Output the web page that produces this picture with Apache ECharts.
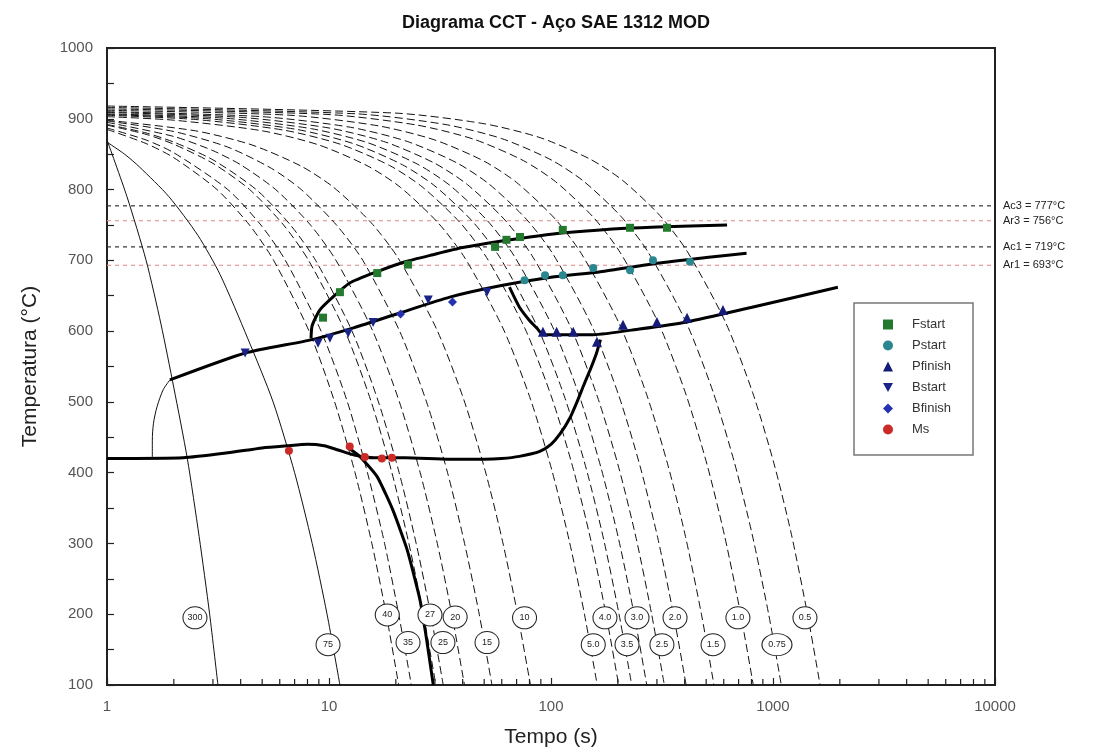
<!DOCTYPE html>
<html><head><meta charset="utf-8">
<script src="https://cdn.jsdelivr.net/npm/echarts@6/dist/echarts.min.js"></script>
<style>html,body{margin:0;padding:0;background:#fff}#c{width:1093px;height:754px}</style>
</head><body><div id="c"></div>
<script>
// ---- cooling curves [time s, temperature °C] ----
const cool300 = [[1,870],[1.23,790],[1.5,700],[1.75,610],[2.0,520],[2.3,420],[2.6,310],[2.9,200],[3.16,100]];
const cool75  = [[1,867],[1.2,850],[1.4,832],[1.9,790],[2.57,735],[3.23,680],[4.3,590],[5.6,500],[7.0,400],[8.4,300],[9.8,200],[11.2,100]];
const cool40  = [[1,885],[1.5,865],[2,845],[3.13,800],[4.38,750],[5.63,700],[8.13,600],[10.6,500],[13.1,400],[15.6,300],[18.1,200],[20.6,100]];
const cool35  = [[1,887],[1.5,870],[2,852],[3.5,800],[4.93,750],[6.36,700],[9.21,600],[12.1,500],[14.9,400],[17.8,300],[20.6,200],[23.5,100]];
const cool27  = [[1,891],[1.5,878],[2,864],[3,837],[4.39,800],[6.24,750],[8.09,700],[11.8,600],[15.5,500],[19.2,400],[22.9,300],[26.6,200],[30.3,100]];
const cool25  = [[1,892],[1.5,880],[2,867],[3,842],[4.7,800],[6.7,750],[8.7,700],[12.7,600],[16.7,500],[20.7,400],[24.7,300],[28.7,200],[32.7,100]];
const cool20  = [[1,895],[2,875],[3,855],[4,835],[5.75,800],[8.25,750],[10.75,700],[15.75,600],[20.75,500],[25.75,400],[30.75,300],[35.75,200],[40.75,100]];
const cool15  = [[1,897],[2,882],[3.5,860],[5.5,830],[7.5,800],[10.8,750],[14.2,700],[20.8,600],[27.5,500],[34.2,400],[40.8,300],[47.5,200],[54.2,100]];
const cool10  = [[1,898],[2.5,883],[4.5,863],[7.5,833],[10.5,803],[15.5,753],[20.5,703],[30.5,603],[40.5,503],[50.5,403],[60.5,303],[70.7,200],[80.8,100]];
const cool5   = [[1,903],[2,898],[5,883],[9,863],[15,833],[21,803],[31,753],[41,703],[61,603],[81,503],[101,403],[121,303],[141.5,200],[161.5,100]];
const cool4   = [[1,905],[2.5,899],[6.25,884],[11.25,864],[18.75,834],[26.25,804],[38.75,754],[51.25,704],[76.25,604],[101.3,504],[126.3,404],[151.3,304],[176.8,200],[201.8,100]];
const cool3_5 = [[1,906],[2.86,900],[7.14,885],[12.86,865],[21.43,835],[30,805],[44.3,755],[58.6,705],[87.1,605],[115.7,505],[144.3,405],[172.9,305],[202.5,200],[231,100]];
const cool3   = [[1,907],[3.33,901],[8.33,886],[15,866],[25,836],[35,806],[51.7,756],[68.3,706],[101.7,606],[135,506],[168.3,406],[201.7,306],[236.7,200],[270,100]];
const cool2_5 = [[1,909],[4,902],[10,887],[18,867],[30,837],[42,807],[62,757],[82,707],[122,607],[162,507],[202,407],[242,307],[284,200],[324,100]];
const cool2   = [[1,910],[5,903],[12.5,888],[22.5,868],[37.5,838],[52.5,808],[77.5,758],[102.5,708],[152.5,608],[202.5,508],[252.5,408],[302.5,308],[356,200],[406,100]];
const cool1_5 = [[1,912],[6.67,905],[16.7,890],[30,870],[50,840],[70,810],[103.3,760],[136.7,710],[203.3,610],[270,510],[336.7,410],[403.3,310],[476,200],[542,100]];
const cool1   = [[1,914],[10,906],[25,891],[45,871],[75,841],[105,811],[155,761],[205,711],[305,611],[405,511],[505,411],[605,311],[715,200],[815,100]];
const cool0_75= [[1,916],[13.3,907],[33.3,892],[60,872],[100,842],[140,812],[206.7,762],[273.3,712],[406.7,612],[540,512],[673.3,412],[806.7,312],[956,200],[1090,100]];
const cool0_5 = [[1,918],[20,908],[50,893],[90,873],[150,843],[210,813],[310,763],[410,713],[610,613],[810,513],[1010,413],[1210,313],[1430,200],[1630,100]];

// ---- transformation lines ----
const ferriteStart = [[8.3,590],[8.4,608],[9.1,630],[10.4,648],[12.4,668],[16.5,684],[22,698],[29.4,708],[40,718],[59,727],[100,737],[167,743],[300,747],[621,750]];
const bainiteStart = [[1.92,531],[4.2,569],[8.4,588],[13,605],[21,626],[35,648],[59,664],[100,676],[167,684],[300,696],[500,704],[760,710]];
const pearliteFinish = [[65,662],[72,634],[80,615],[86.5,604],[92,595],[120,595],[155,595],[250,603],[410,613],[787,633],[1960,662]];
const bsNose = [[1.6,420],[1.6,445],[1.62,470],[1.68,493],[1.79,517],[1.92,531]];
const msLine = [[1,420],[2.2,421],[3.5,428],[5,435],[6.5,438],[8,440],[9.5,438],[11,432],[13,425],[16,421],[22,421],[35,419],[50,419],[60,420],[72,423],[89,430],[100,440],[110,455],[122,478],[131,500],[141,525],[150,545],[160,568],[167,588]];
const martensiteLine = [[12,437],[13.5,425],[15,410],[16.5,394],[18,370],[19.4,347],[21,318],[22.5,291],[24,258],[25.7,220],[27.5,165],[29.5,100]];

// ---- critical temperatures ----
const critNames = ['Ac3','Ar3','Ac1','Ar1'];
const critTemps = [777,756,719,693];

// ---- measured points ----
const fStart  = [[9.4,619],[11.2,655],[16.5,682],[22.7,694],[56,719],[63,729],[72.5,733],[113,743],[227,746],[333,746]];
const pStart  = [[76,672],[94,679],[113,679],[155,689],[227,686],[288,700],[423,698]];
const pFinish = [[92,599],[106,599],[126,599],[161,585],[211,609],[300,613],[410,619],[595,630]];
const bStart  = [[4.19,569],[8.93,583],[10.1,590],[12.2,597],[15.8,612],[28,644],[51.5,655]];
const bFinish = [[21,624],[36,641]];
const msPts   = [[6.6,431],[12.4,437],[14.5,422],[17.3,420],[19.2,421]];

// ---- cooling-rate labels ----
const rateNames = ['300','75','40','35','27','25','20','15','10','5.0','4.0','3.5','3.0','2.5','2.0','1.5','1.0','0.75','0.5'];
const rateLabelTime = [2.49,9.9,18.3,22.7,28.5,32.6,37.0,51.5,76,155,175,220,244,316,362,537,695,1042,1393];
const rateLabelTemp = [195,157,199,160,199,160,196,160,195,157,195,157,195,157,195,157,195,157,195];

// ---- region names ----
const regionNames = ['Austenita','Ferrite','Perlita','Bainita','Martensita'];
const regionTime = [4.9,33,237,10.1,4.1];
const regionTemp = [814,684,654,527,308];

// ---- axis ticks ----
const xMinorTicks = [];
[1,10,100,1000].forEach(d => { for (let k = 2; k <= 9; k++) xMinorTicks.push(d*k); });

const coolSets = [cool300,cool75,cool40,cool35,cool27,cool25,cool20,cool15,cool10,cool5,cool4,cool3_5,cool3,cool2_5,cool2,cool1_5,cool1,cool0_75,cool0_5];

const FONT = 'Liberation Sans, Arial, sans-serif';
const series = [];
coolSets.forEach((d, i) => {
  series.push({
    type: 'line', name: 'c' + rateNames[i], data: d, showSymbol: false, silent: true, smooth: 0.25,
    lineStyle: { color: '#111', width: 1, type: i < 2 ? 'solid' : [8, 4] }, z: 2
  });
});
critNames.forEach((n, i) => {
  const red = n.startsWith('Ar');
  series.push({
    type: 'line', name: n, data: [[1, critTemps[i]], [10000, critTemps[i]]], showSymbol: false, silent: true,
    lineStyle: { color: red ? '#e59a9a' : '#333', width: 1.2, type: [4, 4] }, z: 1,
    endLabel: { show: true, formatter: n + ' = ' + critTemps[i] + '°C', color: '#222', fontSize: 11, fontFamily: FONT, distance: 8 }
  });
});
[ferriteStart, bainiteStart, pearliteFinish, msLine, martensiteLine].forEach(d => {
  series.push({ type: 'line', data: d, showSymbol: false, silent: true, smooth: 0.2,
    lineStyle: { color: '#000', width: 3 }, z: 4 });
});
series.push({ type: 'line', data: bsNose, showSymbol: false, silent: true, smooth: 0.3,
  lineStyle: { color: '#111', width: 1 }, z: 3 });

const markerDefs = [
  ['Fstart', fStart, 'rect', 8, '#237a2e'],
  ['Pstart', pStart, 'circle', 8, '#2a8790'],
  ['Pfinish', pFinish, 'triangle', 10, '#151b78'],
  ['Bstart', bStart, 'path://M0,0 L10,0 L5,9 Z', 9, '#1a2488'],
  ['Bfinish', bFinish, 'diamond', 9, '#2430b0'],
  ['Ms', msPts, 'circle', 8, '#cc2a26']
];
markerDefs.forEach(m => {
  series.push({ type: 'scatter', name: m[0], data: m[1], symbol: m[2], symbolSize: m[3],
    itemStyle: { color: m[4], opacity: 1 }, z: 6 });
});
series.push({
  type: 'scatter', silent: true, z: 7,
  data: rateNames.map((n, i) => ({ name: n, value: [rateLabelTime[i], rateLabelTemp[i]] })),
  symbol: 'path://M0,10 A10,10 0 1,1 20,10 A10,10 0 1,1 0,10 Z',
  symbolSize: (v, p) => p.name.length > 3 ? [30, 22] : [24, 22],
  itemStyle: { color: '#fff', borderColor: '#222', borderWidth: 1, opacity: 1 },
  label: { show: true, position: 'inside', formatter: '{b}', fontSize: 9, color: '#222', fontFamily: FONT }
});
series.push({
  type: 'scatter', silent: true, z: 8, symbolSize: 1,
  data: regionNames.map((n, i) => ({ name: n, value: [regionTime[i], regionTemp[i]] })),
  itemStyle: { opacity: 0 },
  label: { show: true, position: 'inside', formatter: '{b}', fontSize: 20, color: '#111', fontFamily: FONT }
});
series.push({
  type: 'custom', silent: true, z: 9, clip: false,
  data: xMinorTicks.map(v => [v, 100]),
  encode: { x: 0, y: 1 },
  renderItem: (params, api) => {
    const p = api.coord([api.value(0), 100]);
    return { type: 'line', shape: { x1: p[0], y1: p[1], x2: p[0], y2: p[1] - 6 }, style: { stroke: '#222', lineWidth: 1.2 } };
  }
});

const chart = echarts.init(document.getElementById('c'), null, { renderer: 'canvas' });
chart.setOption({
  animation: false,
  backgroundColor: '#fff',
  title: { text: 'Diagrama CCT - Aço SAE 1312 MOD', left: 551, textAlign: 'center', top: 9,
    textStyle: { fontSize: 18, fontWeight: 'bold', color: '#111', fontFamily: FONT } },
  grid: { left: 107, right: 98, top: 48, bottom: 69, show: true, borderColor: '#222', borderWidth: 2 },
  legend: {
    data: markerDefs.map(m => m[0]), orient: 'vertical', left: 854, top: 303,
    itemWidth: 10, itemHeight: 10, itemGap: 8, padding: [15, 22, 19, 29],
    borderColor: '#777', borderWidth: 1.5, backgroundColor: '#fff',
    textStyle: { fontSize: 13, color: '#333', fontFamily: FONT, padding: [0, 0, 0, 14] }
  },
  xAxis: {
    type: 'log', logBase: 10, min: 1, max: 10000,
    name: 'Tempo (s)', nameLocation: 'middle', nameGap: 42,
    nameTextStyle: { fontSize: 21, color: '#222', fontFamily: FONT },
    axisLine: { lineStyle: { color: '#222', width: 2 } },
    axisTick: { inside: true, length: 7, lineStyle: { color: '#222', width: 1.2 } },
    axisLabel: { fontSize: 15, color: '#555', margin: 14, fontFamily: FONT, formatter: v => String(v) },
    splitLine: { show: false }
  },
  yAxis: {
    type: 'value', min: 100, max: 1000, interval: 100,
    name: 'Temperatura (°C)', nameLocation: 'middle', nameGap: 66,
    nameTextStyle: { fontSize: 21, color: '#222', fontFamily: FONT },
    axisLine: { show: true, lineStyle: { color: '#222', width: 2 } },
    axisTick: { inside: true, length: 7, lineStyle: { color: '#222', width: 1.2 } },
    minorTick: { show: true, splitNumber: 2, length: 7, lineStyle: { color: '#222', width: 1.2 } },
    axisLabel: { fontSize: 15, color: '#555', margin: 14, fontFamily: FONT, formatter: v => String(v) },
    splitLine: { show: false }
  },
  series: series
});
</script></body></html>
